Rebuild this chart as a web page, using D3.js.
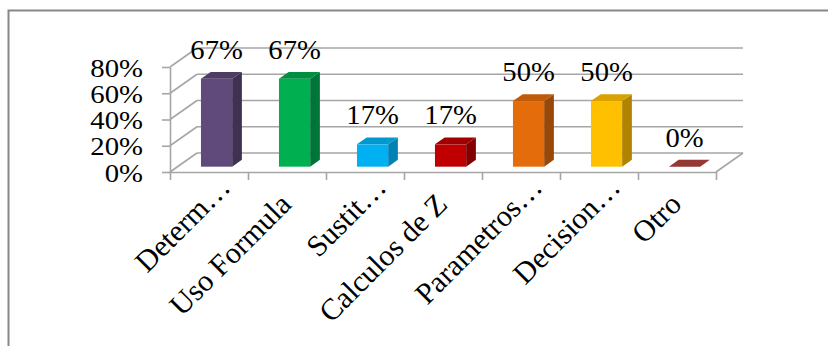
<!DOCTYPE html>
<html>
<head>
<meta charset="utf-8">
<script src="https://cdn.jsdelivr.net/npm/d3@7"></script>
<style>
  html, body { margin: 0; padding: 0; background: #fff; }
  svg { display: block; }
</style>
</head>
<body>
<svg id="chart" width="828" height="346"></svg>
<script>
// Categories and their shares
const categories = ["Determ…", "Uso Formula", "Sustit…", "Calculos de Z", "Parametros…", "Decision…", "Otro"];
const values = [0.67, 0.67, 0.17, 0.17, 0.50, 0.50, 0];
const yTicks = [0, 0.2, 0.4, 0.6, 0.8];

// Face colours per column: front, right side, top
const frontColors = ["#604A7B", "#00B050", "#00B0F0", "#C00000", "#E46C0A", "#FFC000", "#953735"];
const sideColors  = ["#3F3151", "#00753A", "#0083B4", "#820000", "#984807", "#B08400", "#6A2624"];
const topColors   = ["#4E3C66", "#008F40", "#0098CF", "#A00000", "#BF5A08", "#D9A200", "#953735"];

const svg = d3.select("#chart");
const FONT = "'Liberation Serif', 'Times New Roman', serif";
const FS = 26.5;      // value label size
const FS_TICK = 25;   // value axis label size
const FS_CAT = 30;    // category label size
const SX = 1.08;      // horizontal stretch of the upright text
const GRID = "#A6A6A6";

// outer frame
svg.append("rect")
  .attr("x", 8.5).attr("y", 10.5)
  .attr("width", 860).attr("height", 400)
  .attr("fill", "none").attr("stroke", "#878787").attr("stroke-width", 2);

// plot geometry: front plane and the depth offset of the back wall
const x0 = 170, x1 = 716, yBase = 172, yTop = 67;
const depth = { dx: 27, dy: -19 };
const f0 = 0.28, f1 = 0.64;   // column front / back as fraction of the depth

const x = d3.scaleBand().domain(categories).range([x0, x1]);
const y = d3.scaleLinear().domain([0, 0.8]).range([yBase, yTop]);
const edges = d3.scaleLinear().domain([0, categories.length]).range([x0, x1]);
const pct = d3.format(".0%");

// back wall gridlines and the left wall diagonals
const grid = svg.append("g").attr("stroke", GRID).attr("stroke-width", 1.6).attr("fill", "none");
grid.selectAll(".back").data(yTicks).join("line")
  .attr("x1", x0 + depth.dx).attr("x2", x1 + depth.dx)
  .attr("y1", d => y(d) + depth.dy).attr("y2", d => y(d) + depth.dy);
grid.selectAll(".side").data(yTicks).join("line")
  .attr("x1", x0).attr("x2", x0 + depth.dx)
  .attr("y1", d => y(d)).attr("y2", d => y(d) + depth.dy);
// floor right edge
grid.append("line")
  .attr("x1", x1).attr("y1", y(0))
  .attr("x2", x1 + depth.dx).attr("y2", y(0) + depth.dy);

// value axis
const yAxis = svg.append("g")
  .attr("transform", `translate(${x0},0)`)
  .call(d3.axisLeft(y).tickValues(yTicks).tickFormat(pct).tickSize(8).tickSizeOuter(0));
yAxis.select(".domain").attr("stroke", GRID).attr("stroke-width", 1.6);
yAxis.selectAll(".tick line").attr("stroke", GRID).attr("stroke-width", 1.6);
yAxis.selectAll(".tick text")
  .attr("x", 0).attr("dy", null).attr("y", 0)
  .attr("transform", `translate(-27,9) scale(1.15,1)`)
  .attr("text-anchor", "end")
  .attr("fill", "#000")
  .style("font-family", FONT).style("font-size", FS_TICK + "px");

// category axis (ticks on the category boundaries)
const xAxis = svg.append("g")
  .attr("transform", `translate(0,${yBase})`)
  .call(d3.axisBottom(edges).tickValues(d3.range(categories.length + 1)).tickFormat("").tickSize(8).tickSizeOuter(0));
xAxis.select(".domain").attr("stroke", GRID).attr("stroke-width", 1.6);
xAxis.selectAll(".tick line").attr("stroke", GRID).attr("stroke-width", 1.6);

// 3D columns
const bw = x.bandwidth() * 0.4;
const ddx = depth.dx * (f1 - f0), ddy = depth.dy * (f1 - f0);
const cols = categories.map((c, i) => {
  const fx = x(c) + (x.bandwidth() - bw) / 2 + depth.dx * f0;
  const fb = y(0) + depth.dy * f0;
  const ft = y(values[i]) + depth.dy * f0;
  return { c, i, v: values[i], fx, fb, ft };
});
const bars = svg.append("g").selectAll("g").data(cols).join("g");
bars.append("rect")
  .attr("x", d => d.fx).attr("y", d => d.ft)
  .attr("width", bw).attr("height", d => d.fb - d.ft)
  .attr("fill", d => frontColors[d.i]);
bars.append("polygon")
  .attr("points", d => [
    [d.fx + bw, d.ft], [d.fx + bw + ddx, d.ft + ddy],
    [d.fx + bw + ddx, d.fb + ddy], [d.fx + bw, d.fb]].join(" "))
  .attr("fill", d => sideColors[d.i]);
bars.append("polygon")
  .attr("points", d => [
    [d.fx, d.ft], [d.fx + ddx, d.ft + ddy],
    [d.fx + bw + ddx, d.ft + ddy], [d.fx + bw, d.ft]].join(" "))
  .attr("fill", d => topColors[d.i]);

// value labels
svg.append("g").selectAll("text").data(cols).join("text")
  .attr("transform", d => `translate(${d.fx + bw / 2},${d.ft - 20}) scale(${SX},1)`)
  .attr("text-anchor", "middle")
  .style("font-family", FONT).style("font-size", FS + "px")
  .attr("fill", "#000")
  .text(d => pct(d.v));

// rotated category labels
svg.append("g").selectAll("text").data(categories).join("text")
  .attr("transform", d => `translate(${x(d) + x.bandwidth() / 2 + 6},206) rotate(-45)`)
  .attr("text-anchor", "end")
  .attr("dx", d => d.endsWith("…") ? 24 : 0)
  .style("font-family", FONT).style("font-size", FS_CAT + "px")
  .attr("fill", "#000")
  .text(d => d);
</script>
</body>
</html>
